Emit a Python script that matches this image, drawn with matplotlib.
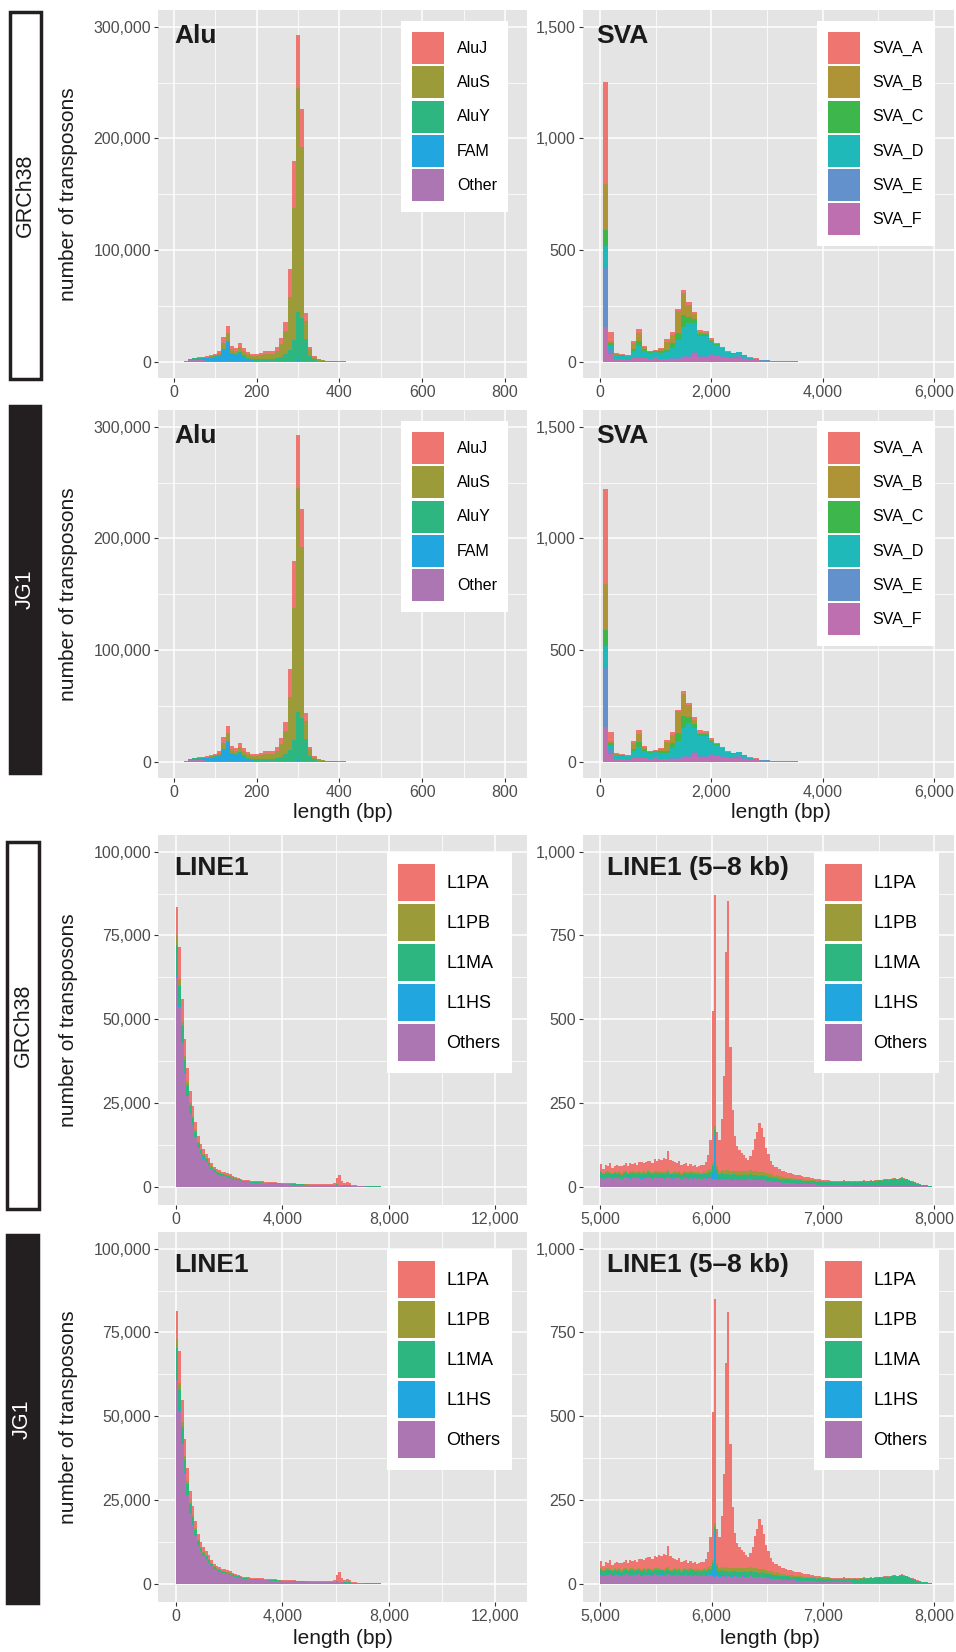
import numpy as np
import matplotlib
matplotlib.use("Agg")
import matplotlib.pyplot as plt
from matplotlib.patches import Patch, Rectangle
from matplotlib.ticker import FuncFormatter

plt.rcParams['font.family'] = ['Liberation Sans', 'DejaVu Sans']

# ---------------- data (counts) ----------------
# Alu, 10 bp bins, centres 30..430
alu_names = ["AluJ", "AluS", "AluY", "FAM", "Other"]
alu_other = [300, 1500, 1500, 1400, 1200, 1000, 900, 800, 800, 800, 800, 700, 700, 700, 600, 600, 500, 500, 500, 500,
             500, 500, 500, 500, 500, 600, 700, 800, 700, 500, 400, 300, 200, 150, 100, 100, 100, 50, 50, 30, 20]
alu_fam = [100, 600, 1200, 1400, 1800, 2200, 2700, 3500, 5000, 10000, 16500, 6000, 5000, 6500, 4000, 2000, 800, 500, 400, 400,
           300, 300, 300, 300, 300, 300, 300, 300, 300, 200, 100, 100, 50, 50, 0, 0, 0, 0, 0, 0, 0]
alu_aluy = [0, 100, 300, 300, 400, 400, 500, 500, 600, 1000, 1500, 1200, 1000, 1200, 1200, 1100, 1000, 1100, 1400, 1600,
            1800, 2000, 2500, 3500, 6000, 10000, 18500, 43000, 38000, 20000, 5000, 2000, 800, 500, 300, 200, 100, 80, 50, 30, 20]
alu_alus = [0, 100, 300, 400, 500, 700, 900, 1000, 1500, 5000, 6500, 3500, 3000, 4500, 4000, 3200, 2800, 2800, 3700, 4300,
            4300, 4400, 6300, 11200, 20700, 47400, 118000, 201000, 153000, 16000, 5600, 2200, 1000, 600, 400, 250, 200, 100, 80, 50, 30]
alu_aluj = [0, 100, 300, 400, 600, 800, 1000, 1200, 1600, 4900, 6700, 2900, 2300, 3500, 2700, 1800, 1500, 1700, 2000, 2500,
            2400, 2400, 3500, 6000, 8000, 25000, 42200, 47900, 34000, 6500, 2000, 800, 350, 200, 200, 150, 100, 70, 40, 40, 30]

# SVA, 100 bp bins, centres 100..3500
sva_names = ["SVA_A", "SVA_B", "SVA_C", "SVA_D", "SVA_E", "SVA_F"]
sva_f = [154, 35, 10, 10, 8, 15, 15, 15, 12, 20, 10, 10, 12, 12, 20, 20, 40, 22, 22, 28, 25, 20, 15, 15, 18, 12, 8, 6, 4, 3, 2, 2, 1, 1, 1]
sva_e = [269, 20, 3, 2, 2, 3, 5, 3, 2, 2, 3, 3, 3, 5, 5, 5, 5, 5, 5, 5, 5, 5, 5, 5, 7, 5, 4, 4, 3, 3, 1, 1, 1, 1, 0]
sva_d = [95, 20, 15, 14, 14, 30, 50, 30, 25, 20, 25, 30, 45, 78, 130, 150, 130, 90, 90, 55, 45, 35, 22, 15, 17, 10, 5, 3, 1, 1, 0, 0, 0, 0, 0]
sva_c = [72, 8, 3, 3, 2, 10, 22, 8, 5, 4, 8, 8, 25, 35, 53, 27, 18, 8, 8, 5, 4, 3, 2, 2, 1, 1, 0, 0, 0, 0, 0, 0, 0, 0, 0]
sva_b = [206, 8, 3, 2, 2, 26, 38, 8, 3, 2, 10, 38, 35, 97, 98, 52, 19, 7, 4, 3, 2, 1, 1, 0, 0, 0, 0, 0, 0, 0, 0, 0, 0, 0, 0]
sva_a = [455, 40, 3, 3, 2, 10, 16, 6, 3, 3, 4, 12, 11, 7, 15, 12, 12, 10, 10, 8, 4, 3, 3, 3, 2, 2, 2, 2, 1, 0, 0, 0, 0, 0, 0]
sva_d_jg1 = [95, 22, 15, 14, 14, 28, 46, 30, 25, 20, 25, 28, 45, 76, 126, 148, 105, 88, 90, 55, 45, 35, 22, 15, 17, 10, 5, 3, 1, 1, 0, 0, 0, 0, 0]
sva_a_jg1 = [424, 38, 3, 3, 2, 9, 15, 6, 3, 3, 4, 11, 11, 7, 14, 12, 11, 10, 10, 8, 4, 3, 3, 3, 2, 2, 2, 2, 1, 0, 0, 0, 0, 0, 0]

# LINE1, 100 bp bins, 0..7800
l1_names = ["L1PA", "L1PB", "L1MA", "L1HS", "Others"]
line1_others = [62700, 53700, 42800, 34000, 27200, 21800, 18300, 14700, 11500, 9700,
                8400, 7300, 6300, 5300, 4400, 3950, 3550, 3250, 3100, 2850,
                2600, 2300, 2100, 1900, 1600, 1450, 1380, 1300, 1230, 1160,
                1120, 1090, 1050, 1010, 980, 940, 900, 870, 830, 800,
                760, 720, 690, 650, 630, 610, 580, 560, 540, 520,
                500, 490, 480, 470, 460, 450, 440, 430, 420, 410,
                400, 400, 380, 360, 340, 300, 200, 150, 120, 100,
                80, 60, 50, 40, 30, 20, 10, 5]
line1_l1hs = [300, 250, 200, 150, 120, 100, 80, 60, 50, 40,
              30, 30, 20, 20, 20, 10, 10, 10, 10, 10,
              10, 10, 10, 10, 10, 5, 5, 5, 5, 5,
              5, 5, 5, 5, 5, 5, 5, 5, 5, 5,
              5, 5, 5, 5, 5, 5, 5, 5, 5, 5,
              5, 5, 5, 5, 5, 5, 5, 5, 5, 10,
              150, 10, 0, 0, 0, 0, 0, 0, 0, 0,
              0, 0, 0, 0, 0, 0, 0, 0]
line1_l1ma = [9150, 6000, 5000, 3800, 3000, 2500, 2100, 1700, 1400, 1100,
              1000, 900, 800, 700, 600, 550, 500, 450, 450, 400,
              400, 350, 300, 300, 250, 250, 220, 220, 200, 200,
              190, 180, 180, 170, 170, 160, 160, 150, 150, 140,
              140, 130, 130, 120, 120, 120, 110, 110, 110, 110,
              110, 110, 100, 100, 100, 100, 100, 100, 100, 110,
              120, 120, 110, 100, 100, 100, 90, 90, 90, 80,
              100, 110, 130, 150, 160, 150, 90, 45]
line1_l1pb = [2790, 2000, 1500, 1100, 900, 700, 600, 500, 400, 350,
              300, 300, 250, 250, 200, 200, 200, 150, 150, 150,
              150, 150, 100, 100, 100, 100, 100, 80, 80, 80,
              70, 70, 70, 70, 60, 60, 60, 60, 50, 50,
              50, 50, 40, 40, 40, 40, 40, 40, 40, 40,
              40, 40, 40, 40, 40, 40, 40, 40, 40, 50,
              80, 100, 90, 80, 80, 70, 40, 30, 30, 20,
              20, 10, 10, 10, 10, 10, 5, 0]
line1_l1pa = [8560, 9750, 6400, 5100, 4200, 3400, 2900, 2300, 1800, 1550,
              1400, 1250, 1100, 950, 800, 700, 650, 650, 600, 600,
              550, 500, 500, 400, 350, 300, 300, 300, 290, 260,
              270, 260, 250, 250, 240, 240, 230, 220, 220, 210,
              200, 200, 190, 190, 190, 180, 190, 190, 190, 190,
              190, 180, 180, 170, 160, 150, 140, 180, 240, 430,
              1750, 2770, 1220, 460, 780, 530, 170, 130, 110, 100,
              80, 70, 60, 50, 30, 20, 15, 10]
line1_others_jg1 = [60900, 51700, 41700, 33100, 26500, 21100, 17600, 14300, 11300, 9500,
                    8200, 7300, 6300, 5300, 4400, 3950, 3550, 3250, 3100, 2850,
                    2600, 2300, 2100, 1900, 1600, 1450, 1380, 1300, 1230, 1160,
                    1120, 1090, 1050, 1010, 980, 940, 900, 870, 830, 800,
                    760, 720, 690, 650, 630, 610, 580, 560, 540, 520,
                    500, 490, 480, 470, 460, 450, 440, 430, 420, 410,
                    400, 400, 380, 360, 340, 300, 200, 150, 120, 100,
                    80, 60, 50, 40, 30, 20, 10, 5]
line1_l1pa_jg1 = [8400, 9600, 6300, 5000, 4100, 3300, 2800, 2300, 1800, 1550,
                  1400, 1250, 1100, 950, 800, 700, 650, 650, 600, 600,
                  550, 500, 500, 400, 350, 300, 300, 300, 290, 260,
                  270, 260, 250, 250, 240, 240, 230, 220, 220, 210,
                  200, 200, 190, 190, 190, 180, 190, 190, 190, 190,
                  190, 180, 180, 170, 160, 150, 140, 180, 240, 430,
                  1750, 2770, 1220, 460, 780, 530, 170, 130, 110, 100,
                  80, 70, 60, 50, 30, 20, 15, 10]

# LINE1 5-8 kb, 20 bp bins, 5000..8000
kb_others = [27, 24, 26, 25, 28, 23, 26, 25, 27, 24, 26, 28, 25, 24, 27, 26, 25, 28, 24, 26,
             25, 27, 26, 24, 28, 25, 26, 27, 24, 26, 28, 25, 24, 26, 27, 25, 23, 26, 25, 24,
             26, 24, 25, 23, 26, 24, 25, 24, 26, 25,
             22, 20, 22, 21, 23, 22, 21, 22, 20, 21, 22, 21, 20, 22, 21, 20, 21, 22, 20, 21,
             20, 19, 20, 19, 18,
             16, 15, 14, 14, 13, 13, 12, 12, 11, 11, 10, 10, 10, 9, 9, 9, 8, 8, 8, 7, 7, 7, 6, 6, 6,
             5, 5, 5, 5, 4, 4, 4, 4, 4, 4, 4, 4, 4, 3, 3, 3, 3, 3, 3, 3, 3, 3, 3, 3, 3, 3, 3, 3, 3, 3,
             3, 3, 3, 2, 2, 2, 2, 2, 2, 2, 2, 2, 1, 1, 1, 1, 1, 0, 0, 0]
kb_l1hs = [1, 0, 1, 1, 0, 1, 0, 1, 1, 0, 1, 1, 0, 1, 0, 1, 1, 0, 1, 1,
           0, 1, 1, 0, 1, 0, 1, 1, 0, 1, 1, 0, 1, 1, 0, 1, 0, 1, 1, 0,
           1, 1, 0, 1, 1, 0, 1, 1, 2, 4,
           20, 130, 15, 3, 2, 2, 1, 2, 1, 1, 1, 1, 1, 0, 1, 1, 0, 1, 1, 0,
           1, 0, 1, 0, 0,
           0, 1, 0, 0, 1, 0, 0, 0, 1, 0, 0, 0, 0, 1, 0, 0, 0, 0, 0, 0, 0, 0, 0, 0, 0,
           0, 0, 0, 0, 0, 0, 0, 0, 0, 0, 0, 0, 0, 0, 0, 0, 0, 0, 0, 0, 0, 0, 0, 0, 0,
           0, 0, 0, 0, 0, 0, 0, 0, 0, 0, 0, 0, 0, 0, 0, 0, 0, 0, 0, 0, 0, 0, 0, 0, 0]
kb_l1ma = [15, 13, 14, 16, 12, 14, 15, 13, 14, 12, 15, 14, 13, 16, 14, 12, 15, 14, 13, 15,
           14, 16, 13, 14, 12, 15, 14, 13, 15, 14, 16, 13, 14, 15, 12, 14, 13, 15, 14, 13,
           14, 15, 13, 14, 12, 14, 16, 13, 14, 15,
           20, 20, 16, 14, 15, 14, 16, 15, 14, 15, 14, 13, 15, 14, 15, 14, 13, 15, 14, 14,
           15, 14, 13, 14, 13,
           13, 12, 12, 11, 12, 11, 10, 11, 10, 11, 10, 10, 9, 10, 10, 9, 10, 9, 10, 9, 10, 9, 9, 10, 9,
           9, 10, 9, 10, 9, 10, 10, 9, 10, 11, 10, 11, 10, 11, 12, 11, 12, 12, 13, 12, 13, 14, 13, 14, 15,
           16, 15, 17, 18, 17, 19, 20, 21, 20, 22, 24, 21, 20, 17, 14, 12, 10, 8, 6, 5, 4, 3, 2, 1, 0]
kb_l1pb = [5, 4, 6, 5, 5, 4, 6, 5, 5, 4, 6, 5, 4, 5, 6, 5, 4, 5, 6, 5,
           5, 6, 4, 5, 5, 6, 5, 4, 6, 5, 5, 4, 6, 5, 5, 6, 4, 5, 5, 6,
           5, 4, 5, 6, 5, 4, 6, 5, 8, 9,
           10, 10, 9, 10, 11, 10, 11, 12, 11, 10, 10, 11, 10, 11, 10, 11, 12, 11, 12, 13,
           12, 12, 11, 10, 10,
           10, 9, 9, 8, 8, 7, 6, 6, 5, 5, 5, 5, 4, 4, 4, 4, 3, 3, 3, 3, 3, 3, 2, 2, 2,
           2, 2, 2, 1, 2, 1, 1, 2, 1, 1, 1, 1, 1, 1, 1, 1, 1, 1, 1, 1, 1, 1, 1, 1, 1,
           1, 1, 1, 1, 1, 1, 1, 1, 1, 1, 1, 1, 1, 1, 1, 1, 1, 0, 0, 0, 0, 0, 0, 0, 0]
kb_l1pa = [20, 12, 18, 14, 26, 13, 16, 20, 15, 22, 18, 24, 19, 26, 22, 28, 21, 26, 30, 24,
           30, 28, 34, 29, 36, 32, 38, 35, 42, 37, 58, 38, 32, 28, 26, 30, 25, 22, 26, 20,
           23, 18, 21, 16, 19, 22, 18, 31, 46, 86,
           454, 690, 100, 92, 152, 282, 652, 802, 372, 182, 104, 74, 64, 54, 49, 39, 34, 44, 64, 94,
           114, 144, 129, 104, 74,
           59, 39, 29, 26, 24, 22, 20, 19, 17, 15, 15, 14, 13, 12, 11, 10, 9, 8, 7, 6, 6, 5, 5, 4, 4,
           3, 2, 3, 2, 2, 3, 2, 2, 2, 3, 2, 2, 2, 2, 1, 2, 2, 1, 2, 2, 1, 2, 1, 1, 2,
           1, 1, 2, 1, 1, 1, 1, 1, 1, 1, 1, 1, 1, 1, 1, 1, 0, 1, 0, 0, 1, 0, 0, 0, 0]
kb_l1pa_jg1 = [20, 12, 18, 14, 26, 13, 16, 20, 15, 22, 18, 24, 19, 26, 22, 28, 21, 26, 30, 24,
               32, 30, 36, 31, 38, 35, 40, 37, 45, 40, 62, 40, 33, 28, 26, 30, 25, 22, 26, 20,
               23, 18, 21, 16, 19, 22, 18, 31, 46, 86,
               440, 671, 100, 92, 150, 280, 610, 760, 372, 182, 104, 74, 64, 54, 49, 39, 34, 44, 64, 94,
               114, 147, 129, 104, 74,
               59, 39, 29, 26, 24, 22, 20, 19, 17, 15, 15, 14, 13, 12, 11, 10, 9, 8, 7, 6, 6, 5, 5, 4, 4,
               3, 2, 3, 2, 2, 3, 2, 2, 2, 3, 2, 2, 2, 2, 1, 2, 2, 1, 2, 2, 1, 2, 1, 1, 2,
               1, 1, 2, 1, 1, 1, 1, 1, 1, 1, 1, 1, 1, 1, 1, 1, 0, 1, 0, 0, 1, 0, 0, 0, 0]

# colours
five_cols = ["#EF7670", "#9C9B3A", "#2DB67F", "#22A6E0", "#AC76B3"]
sva_cols = ["#EF7670", "#AE9436", "#3DB64B", "#20B9B9", "#6391CC", "#BD6FAF"]

W, H = 956, 1652
fig = plt.figure(figsize=(W / 100, H / 100), dpi=100)

comma = FuncFormatter(lambda v, p: f"{int(round(v)):,}")


def px_rect(x0, y0, x1, y1):
    return [x0 / W, 1 - y1 / H, (x1 - x0) / W, (y1 - y0) / H]


def panel(rect, edges, layers_top_first, colors, names, xlim, ylim, xmaj, xmin, ymaj, ymin,
          title, tpos, leg_anchor, leg_fs, klen, khgt, lspace, tpad, bpad):
    ax = fig.add_axes(rect)
    ax.set_facecolor("#E4E4E4")
    for s in ax.spines.values():
        s.set_visible(False)
    base = np.zeros(len(edges) - 1)
    # stack from the bottom (last level) upwards, like ggplot
    for vals, c in zip(layers_top_first[::-1], colors[::-1]):
        v = np.asarray(vals, dtype=float)
        ax.stairs(base + v, edges, baseline=base.copy(), fill=True, color=c, linewidth=0)
        base = base + v
    ax.set_xlim(*xlim)
    ax.set_ylim(*ylim)
    ax.set_xticks(xmaj)
    ax.set_xticks(xmin, minor=True)
    ax.set_yticks(ymaj)
    ax.set_yticks(ymin, minor=True)
    ax.xaxis.set_major_formatter(comma)
    ax.yaxis.set_major_formatter(comma)
    ax.grid(which="major", color="white", linewidth=1.1)
    ax.grid(which="minor", color="white", linewidth=0.55)
    ax.set_axisbelow(True)
    ax.tick_params(which="major", length=3, width=0.8, color="#333333", labelsize=11.5,
                   labelcolor="#4D4D4D", pad=2)
    ax.tick_params(which="minor", length=0)
    ax.text(tpos[0], tpos[1], title, transform=ax.transAxes, fontsize=19, fontweight="bold",
            color="#1A1A1A", ha="left", va="top")
    handles = [Patch(facecolor=c, edgecolor="none") for c in colors]
    leg = ax.legend(handles, names, loc="upper right", bbox_to_anchor=leg_anchor, borderaxespad=0,
                    frameon=True, fancybox=False, framealpha=1, edgecolor="white", fontsize=leg_fs,
                    handlelength=klen, handleheight=khgt, labelspacing=lspace, handletextpad=tpad,
                    borderpad=bpad)
    leg.get_frame().set_linewidth(0)
    return ax


alu_edges = np.arange(25, 436, 10)
sva_edges = np.arange(50, 3551, 100)
l1_edges = np.arange(0, 7801, 100)
kb_edges = np.arange(5000, 8001, 20)

rows_y = [(10, 378), (410, 778), (835, 1205), (1232, 1602)]
left_x = (158, 527)
right_x = (583, 954)

for r in (0, 1):
    y0, y1 = rows_y[r]
    sa = sva_a if r == 0 else sva_a_jg1
    sd = sva_d if r == 0 else sva_d_jg1
    panel(px_rect(left_x[0], y0, left_x[1], y1), alu_edges,
          [alu_aluj, alu_alus, alu_aluy, alu_fam, alu_other], five_cols, alu_names,
          (-38, 853), (-14600, 315000), [0, 200, 400, 600, 800], [100, 300, 500, 700],
          [0, 100000, 200000, 300000], [50000, 150000, 250000],
          "Alu", (0.043, 0.962), (0.9485, 0.970), 11.5, 2.0, 2.7, 0.14, 0.8, 0.7)
    panel(px_rect(right_x[0], y0, right_x[1], y1), sva_edges,
          [sa, sva_b, sva_c, sd, sva_e, sva_f], sva_cols, sva_names,
          (-305, 6361), (-73, 1575), [0, 2000, 4000, 6000], [1000, 3000, 5000],
          [0, 500, 1000, 1500], [250, 750, 1250],
          "SVA", (0.035, 0.962), (0.9488, 0.970), 11.5, 2.0, 2.7, 0.14, 0.8, 0.7)

for r in (2, 3):
    y0, y1 = rows_y[r]
    lo = line1_others if r == 2 else line1_others_jg1
    lp = line1_l1pa if r == 2 else line1_l1pa_jg1
    kp = kb_l1pa if r == 2 else kb_l1pa_jg1
    panel(px_rect(left_x[0], y0, left_x[1], y1), l1_edges,
          [lp, line1_l1pb, line1_l1ma, line1_l1hs, lo], five_cols, l1_names,
          (-660, 13185), (-5460, 104985), [0, 4000, 8000, 12000], [2000, 6000, 10000],
          [0, 25000, 50000, 75000, 100000], [12500, 37500, 62500, 87500],
          "LINE1", (0.043, 0.943), (0.959, 0.954), 13, 2.05, 2.78, 0.17, 0.6, 0.65)
    panel(px_rect(right_x[0], y0, right_x[1], y1), kb_edges,
          [kp, kb_l1pb, kb_l1ma, kb_l1hs, kb_others], five_cols, l1_names,
          (4845, 8177), (-54.7, 1050), [5000, 6000, 7000, 8000], [5500, 6500, 7500],
          [0, 250, 500, 750, 1000], [125, 375, 625, 875],
          "LINE1 (5\u20138 kb)", (0.065, 0.943), (0.9596, 0.954), 13, 2.05, 2.78, 0.17, 0.6, 0.65)

# genome label boxes on the left
boxes = [("GRCh38", (10, 12, 41, 379)), ("JG1", (10, 406, 40, 773)),
         ("GRCh38", (7, 842, 39, 1209)), ("JG1", (7, 1235, 38, 1603))]
for name, (bx0, by0, bx1, by1) in boxes:
    dark = name == "JG1"
    fig.add_artist(Rectangle((bx0 / W, 1 - by1 / H), (bx1 - bx0) / W, (by1 - by0) / H,
                             transform=fig.transFigure,
                             facecolor="#231F20" if dark else "white",
                             edgecolor="#231F20", linewidth=2.5))
    fig.text((bx0 + bx1) / 2 / W, 1 - (by0 + by1) / 2 / H, name, rotation=90,
             ha="center", va="center", fontsize=15.5, color="white" if dark else "#1A1A1A")

# y axis titles
for y0, y1 in rows_y:
    fig.text(69 / W, 1 - (y0 + y1) / 2 / H, "number of transposons", rotation=90,
             ha="center", va="center", fontsize=15, color="#1A1A1A")

# x axis titles
fig.text(343 / W, 1 - 812 / H, "length (bp)", ha="center", va="center", fontsize=15, color="#1A1A1A")
fig.text(781 / W, 1 - 812 / H, "length (bp)", ha="center", va="center", fontsize=15, color="#1A1A1A")
fig.text(343 / W, 1 - 1638 / H, "length (bp)", ha="center", va="center", fontsize=15, color="#1A1A1A")
fig.text(770 / W, 1 - 1638 / H, "length (bp)", ha="center", va="center", fontsize=15, color="#1A1A1A")

fig.savefig("out.png", dpi=100)
